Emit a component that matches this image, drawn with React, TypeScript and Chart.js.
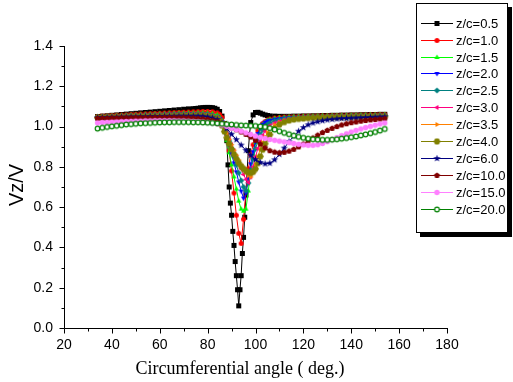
import React, { useEffect, useRef } from 'react';
import { Chart, registerables } from 'chart.js';

Chart.register(...registerables);

// ---------------- data ----------------
const SERIES_LABELS = ['z/c=0.5', 'z/c=1.0', 'z/c=1.5', 'z/c=2.0', 'z/c=2.5', 'z/c=3.0', 'z/c=3.5', 'z/c=4.0', 'z/c=6.0', 'z/c=10.0', 'z/c=15.0', 'z/c=20.0'];
const X_TITLE = 'Circumferential angle ( deg.)';
const Y_TITLE = 'Vz/V';

const ANGLES_BLACK = [34, 36, 38, 40, 42, 44, 46, 48, 50, 52, 54, 56, 58, 60, 62, 64, 66, 68, 70, 72, 74,
  75, 76, 77, 78, 79, 80, 81, 82, 83, 84, 85, 86, 87, 88,
  88.5, 89, 89.5, 90, 90.5, 91, 91.5, 92, 92.5, 93, 93.5, 94, 94.5, 95, 95.5, 96, 96.5, 97, 97.5,
  98, 99, 100, 101, 102, 103, 104, 105, 106,
  108, 110, 112, 114, 116, 118, 120, 122, 124, 126, 128, 130, 132, 134, 136, 138, 140, 142, 144, 146, 148, 150, 152, 154];

const ANGLES_FINE = [34, 36, 38, 40, 42, 44, 46, 48, 50, 52, 54, 56, 58, 60, 62, 64, 66, 68, 70, 72, 74, 76, 78, 80, 82,
  84, 85, 86, 87, 88, 89, 90, 91, 92, 93, 94, 95, 96, 97, 98, 99, 100, 101, 102, 103, 104, 105, 106,
  108, 110, 112, 114, 116, 118, 120, 122, 124, 126, 128, 130, 132, 134, 136, 138, 140, 142, 144, 146, 148, 150, 152, 154];

const ANGLES_COARSE = [34, 36, 38, 40, 42, 44, 46, 48, 50, 52, 54, 56, 58, 60, 62, 64, 66, 68, 70, 72, 74, 76, 78, 80, 82,
  84, 86, 88, 90, 92, 94, 96, 98, 100, 102, 104, 106,
  108, 110, 112, 114, 116, 118, 120, 122, 124, 126, 128, 130, 132, 134, 136, 138, 140, 142, 144, 146, 148, 150, 152, 154];

const VZ_05 = [1.050, 1.052, 1.054, 1.056, 1.058, 1.060, 1.062, 1.064, 1.066, 1.068, 1.070, 1.072, 1.074, 1.076, 1.078, 1.080, 1.082, 1.084, 1.086, 1.088, 1.089,
  1.090, 1.091, 1.093, 1.094, 1.095, 1.095, 1.095, 1.094, 1.091, 1.086, 1.075, 1.052, 1.015, 0.930,
  0.810, 0.700, 0.620, 0.560, 0.480, 0.410, 0.330, 0.260, 0.190, 0.110, 0.190, 0.260, 0.370, 0.450, 0.550, 0.660, 0.780, 0.880, 0.960,
  1.020, 1.058, 1.070, 1.071, 1.067, 1.062, 1.058, 1.055, 1.053,
  1.052, 1.051, 1.051, 1.051, 1.052, 1.052, 1.053, 1.053, 1.054, 1.054, 1.055, 1.055, 1.056, 1.056, 1.057, 1.057, 1.058, 1.058, 1.059, 1.059, 1.060, 1.060, 1.061, 1.061];

const VZ_10 = [1.050, 1.052, 1.053, 1.055, 1.056, 1.057, 1.058, 1.060, 1.061, 1.062, 1.063, 1.064, 1.065, 1.066, 1.067, 1.068, 1.069, 1.070, 1.071, 1.072, 1.073, 1.074, 1.075, 1.075, 1.073,
  1.068, 1.060, 1.045, 1.015, 0.960, 0.880, 0.780, 0.670, 0.560, 0.470, 0.420, 0.540, 0.680, 0.790, 0.860, 0.910, 0.950, 0.980, 1.000, 1.015, 1.025, 1.032, 1.037,
  1.042, 1.045, 1.047, 1.048, 1.049, 1.050, 1.051, 1.052, 1.052, 1.053, 1.054, 1.054, 1.055, 1.055, 1.056, 1.056, 1.057, 1.057, 1.058, 1.058, 1.059, 1.059, 1.060, 1.060];

const VZ_15 = [1.048, 1.050, 1.051, 1.052, 1.053, 1.054, 1.055, 1.056, 1.057, 1.058, 1.059, 1.060, 1.061, 1.062, 1.063, 1.064, 1.065, 1.066, 1.066, 1.067, 1.067, 1.068, 1.068, 1.067, 1.064,
  1.058, 1.048, 1.030, 0.990, 0.930, 0.870, 0.810, 0.750, 0.690, 0.630, 0.590, 0.580, 0.590, 0.680, 0.780, 0.860, 0.920, 0.960, 0.990, 1.010, 1.022, 1.030, 1.035,
  1.040, 1.043, 1.045, 1.047, 1.048, 1.049, 1.050, 1.051, 1.051, 1.052, 1.053, 1.053, 1.054, 1.054, 1.055, 1.055, 1.056, 1.056, 1.057, 1.057, 1.058, 1.058, 1.058, 1.059];

const VZ_20 = [1.047, 1.048, 1.049, 1.050, 1.051, 1.052, 1.053, 1.054, 1.055, 1.056, 1.057, 1.058, 1.059, 1.060, 1.061, 1.062, 1.062, 1.063, 1.063, 1.064, 1.064, 1.065, 1.064, 1.062, 1.058,
  1.050, 1.040, 1.025, 0.995, 0.955, 0.910, 0.865, 0.820, 0.775, 0.725, 0.680, 0.645, 0.670, 0.740, 0.815, 0.875, 0.925, 0.965, 0.995, 1.012, 1.022, 1.028, 1.032,
  1.037, 1.040, 1.042, 1.044, 1.045, 1.046, 1.047, 1.048, 1.049, 1.050, 1.050, 1.051, 1.051, 1.052, 1.052, 1.053, 1.053, 1.054, 1.054, 1.055, 1.055, 1.055, 1.056, 1.056];

const VZ_25 = [1.046, 1.047, 1.048, 1.049, 1.050, 1.051, 1.052, 1.053, 1.054, 1.055, 1.056, 1.056, 1.057, 1.058, 1.058, 1.059, 1.060, 1.060, 1.061, 1.061, 1.062, 1.062, 1.061, 1.059, 1.055,
  1.048, 1.038, 1.022, 0.998, 0.965, 0.928, 0.890, 0.850, 0.810, 0.770, 0.732, 0.700, 0.682, 0.720, 0.780, 0.840, 0.890, 0.930, 0.960, 0.982, 0.998, 1.010, 1.018,
  1.028, 1.034, 1.038, 1.041, 1.043, 1.044, 1.045, 1.046, 1.047, 1.048, 1.048, 1.049, 1.050, 1.050, 1.051, 1.051, 1.052, 1.052, 1.053, 1.053, 1.054, 1.054, 1.054, 1.055];

const VZ_30 = [1.045, 1.046, 1.047, 1.048, 1.049, 1.050, 1.051, 1.052, 1.053, 1.054, 1.054, 1.055, 1.056, 1.056, 1.057, 1.057, 1.058, 1.058, 1.059, 1.059, 1.060, 1.060, 1.059, 1.057, 1.053,
  1.046, 1.036, 1.020, 0.998, 0.970, 0.940, 0.910, 0.880, 0.850, 0.820, 0.790, 0.762, 0.738, 0.722, 0.750, 0.800, 0.850, 0.892, 0.928, 0.956, 0.978, 0.994, 1.005,
  1.018, 1.027, 1.033, 1.037, 1.040, 1.042, 1.043, 1.044, 1.045, 1.046, 1.046, 1.047, 1.047, 1.048, 1.048, 1.049, 1.049, 1.050, 1.050, 1.050, 1.051, 1.051, 1.051, 1.052];

const VZ_35 = [1.045, 1.046, 1.046, 1.047, 1.048, 1.049, 1.050, 1.050, 1.051, 1.052, 1.052, 1.053, 1.054, 1.054, 1.055, 1.055, 1.056, 1.056, 1.057, 1.057, 1.058, 1.058, 1.057, 1.055, 1.051,
  1.044, 1.032, 1.015, 0.992, 0.965, 0.937, 0.910, 0.883, 0.858, 0.834, 0.810, 0.790, 0.772, 0.758, 0.750, 0.770, 0.810, 0.850, 0.888, 0.920, 0.948, 0.970, 0.988,
  1.008, 1.020, 1.028, 1.033, 1.037, 1.040, 1.042, 1.043, 1.044, 1.045, 1.045, 1.046, 1.046, 1.047, 1.047, 1.048, 1.048, 1.049, 1.049, 1.049, 1.050, 1.050, 1.050, 1.051];

const VZ_40 = [1.044, 1.045, 1.045, 1.046, 1.047, 1.047, 1.048, 1.049, 1.049, 1.050, 1.050, 1.051, 1.052, 1.052, 1.053, 1.053, 1.054, 1.054, 1.055, 1.055, 1.055, 1.056, 1.055, 1.052, 1.048,
  1.040, 1.025, 1.005, 0.975, 0.945, 0.915, 0.888, 0.862, 0.840, 0.820, 0.803, 0.790, 0.780, 0.773, 0.770, 0.775, 0.790, 0.818, 0.852, 0.885, 0.915, 0.940, 0.960,
  0.990, 1.010, 1.022, 1.030, 1.035, 1.038, 1.040, 1.042, 1.043, 1.044, 1.044, 1.045, 1.045, 1.046, 1.046, 1.047, 1.047, 1.048, 1.048, 1.048, 1.049, 1.049, 1.049, 1.050];

const VZ_60 = [1.044, 1.045, 1.045, 1.046, 1.046, 1.047, 1.047, 1.048, 1.048, 1.049, 1.049, 1.050, 1.050, 1.050, 1.051, 1.051, 1.051, 1.052, 1.052, 1.052, 1.052, 1.052, 1.051, 1.048, 1.043,
  1.035, 1.015, 0.990, 0.962, 0.935, 0.908, 0.882, 0.857, 0.836, 0.822, 0.815, 0.818,
  0.835, 0.862, 0.893, 0.925, 0.953, 0.977, 0.995, 1.009, 1.018, 1.024, 1.029, 1.033, 1.036, 1.038, 1.040, 1.041, 1.042, 1.043, 1.044, 1.045, 1.046, 1.047, 1.048, 1.049];

const VZ_100 = [1.040, 1.041, 1.041, 1.042, 1.042, 1.043, 1.043, 1.043, 1.044, 1.044, 1.044, 1.044, 1.045, 1.045, 1.045, 1.045, 1.045, 1.044, 1.044, 1.043, 1.042, 1.040, 1.038, 1.035, 1.030,
  1.024, 1.014, 1.004, 0.994, 0.984, 0.973, 0.961, 0.948, 0.932, 0.913, 0.894, 0.880,
  0.873, 0.870, 0.872, 0.878, 0.887, 0.899, 0.913, 0.928, 0.943, 0.957, 0.970, 0.981, 0.991, 1.000, 1.008, 1.014, 1.019, 1.023, 1.027, 1.030, 1.033, 1.035, 1.037, 1.039];

const VZ_150 = [1.018, 1.020, 1.021, 1.022, 1.023, 1.024, 1.025, 1.026, 1.027, 1.027, 1.028, 1.028, 1.029, 1.029, 1.029, 1.029, 1.029, 1.028, 1.028, 1.027, 1.026, 1.025, 1.023, 1.021, 1.018,
  1.014, 1.008, 1.001, 0.993, 0.985, 0.977, 0.969, 0.961, 0.953, 0.947, 0.941, 0.936,
  0.932, 0.928, 0.924, 0.920, 0.916, 0.912, 0.909, 0.907, 0.907, 0.910, 0.916, 0.925, 0.935, 0.945, 0.955, 0.964, 0.973, 0.981, 0.988, 0.995, 1.001, 1.007, 1.013, 1.018];

const VZ_200 = [0.990, 0.994, 0.998, 1.001, 1.004, 1.007, 1.010, 1.012, 1.014, 1.016, 1.017, 1.018, 1.019, 1.020, 1.021, 1.021, 1.022, 1.022, 1.022, 1.022, 1.021, 1.021, 1.020, 1.019, 1.018,
  1.016, 1.014, 1.012, 1.010, 1.008, 1.006, 1.005, 1.004, 1.003, 1.001, 0.998, 0.992,
  0.985, 0.977, 0.969, 0.962, 0.955, 0.949, 0.944, 0.940, 0.937, 0.935, 0.934, 0.934, 0.935, 0.937, 0.940, 0.943, 0.947, 0.951, 0.956, 0.961, 0.967, 0.973, 0.980, 0.988];

const SERIES_X = [ANGLES_BLACK, ANGLES_FINE, ANGLES_FINE, ANGLES_FINE, ANGLES_FINE, ANGLES_FINE, ANGLES_FINE, ANGLES_FINE, ANGLES_COARSE, ANGLES_COARSE, ANGLES_COARSE, ANGLES_COARSE];
const SERIES_Y = [VZ_05, VZ_10, VZ_15, VZ_20, VZ_25, VZ_30, VZ_35, VZ_40, VZ_60, VZ_100, VZ_150, VZ_200];

// ---------------- styles ----------------
const COLORS = ['#000000', '#FF0000', '#00FF00', '#0000FF', '#008080', '#FF0080', '#FF8000', '#808000', '#000080', '#800000', '#FF80FF', '#008000'];
const SHAPES = ['square', 'circle', 'triUp', 'triDown', 'diamond', 'triLeft', 'triRight', 'hexagon', 'star', 'pentagon', 'circle', 'openCircle'];
const SIZES = [2.5, 2.5, 3.0, 3.0, 3.1, 3.0, 3.0, 3.5, 3.7, 3.1, 2.7, 2.3];

function polygon(ctx: CanvasRenderingContext2D, c: number, r: number, n: number, start: number) {
  ctx.beginPath();
  for (let i = 0; i < n; i++) {
    const a = start + (i * 2 * Math.PI) / n;
    const x = c + r * Math.cos(a);
    const y = c + r * Math.sin(a);
    if (i === 0) ctx.moveTo(x, y); else ctx.lineTo(x, y);
  }
  ctx.closePath();
}

function makeMarker(shape: string, color: string, r: number): HTMLCanvasElement {
  const S = 11;
  const cv = document.createElement('canvas');
  cv.width = S; cv.height = S;
  const ctx = cv.getContext('2d') as CanvasRenderingContext2D;
  const c = S / 2;
  ctx.fillStyle = color;
  ctx.strokeStyle = color;
  ctx.lineWidth = 1;
  switch (shape) {
    case 'square':
      ctx.fillRect(c - r, c - r, 2 * r, 2 * r);
      break;
    case 'circle':
      ctx.beginPath(); ctx.arc(c, c, r, 0, Math.PI * 2); ctx.fill();
      break;
    case 'openCircle':
      ctx.beginPath(); ctx.arc(c, c, r, 0, Math.PI * 2);
      ctx.fillStyle = '#ffffff'; ctx.fill(); ctx.lineWidth = 1.2; ctx.stroke();
      break;
    case 'triUp':
      polygon(ctx, c, r, 3, -Math.PI / 2); ctx.fill();
      break;
    case 'triDown':
      polygon(ctx, c, r, 3, Math.PI / 2); ctx.fill();
      break;
    case 'triLeft':
      polygon(ctx, c, r, 3, Math.PI); ctx.fill();
      break;
    case 'triRight':
      polygon(ctx, c, r, 3, 0); ctx.fill();
      break;
    case 'diamond':
      polygon(ctx, c, r, 4, -Math.PI / 2); ctx.fill();
      break;
    case 'hexagon':
      polygon(ctx, c, r, 6, 0); ctx.fill();
      break;
    case 'pentagon':
      polygon(ctx, c, r, 5, -Math.PI / 2); ctx.fill();
      break;
    case 'star': {
      ctx.beginPath();
      for (let i = 0; i < 10; i++) {
        const a = -Math.PI / 2 + (i * Math.PI) / 5;
        const rr = i % 2 === 0 ? r : r * 0.42;
        const x = c + rr * Math.cos(a);
        const y = c + rr * Math.sin(a);
        if (i === 0) ctx.moveTo(x, y); else ctx.lineTo(x, y);
      }
      ctx.closePath(); ctx.fill();
      break;
    }
  }
  return cv;
}

const originPlugin = {
  id: 'originDecor',
  afterDraw(chart: any) {
    const ctx: CanvasRenderingContext2D = chart.ctx;
    const xs = chart.scales.x;
    const ys = chart.scales.y;
    const { left, right, top, bottom } = chart.chartArea;
    ctx.save();
    // axes lines + ticks
    ctx.strokeStyle = '#000';
    ctx.lineWidth = 1;
    const ax = Math.round(left) + 0.5;
    const ay = Math.round(bottom) + 0.5;
    ctx.beginPath();
    ctx.moveTo(ax, Math.round(top)); ctx.lineTo(ax, ay);
    ctx.moveTo(ax, ay); ctx.lineTo(Math.round(right) + 1, ay);
    const yt = ys.ticks.map((t: any) => t.value);
    for (let i = 0; i < yt.length; i++) {
      const py = Math.round(ys.getPixelForValue(yt[i])) + 0.5;
      ctx.moveTo(ax - 5, py); ctx.lineTo(ax, py);
      if (i < yt.length - 1) {
        const pm = Math.round(ys.getPixelForValue((yt[i] + yt[i + 1]) / 2)) + 0.5;
        ctx.moveTo(ax - 3, pm); ctx.lineTo(ax, pm);
      }
    }
    const xt = xs.ticks.map((t: any) => t.value);
    for (let i = 0; i < xt.length; i++) {
      const px = Math.round(xs.getPixelForValue(xt[i])) + 0.5;
      ctx.moveTo(px, ay); ctx.lineTo(px, ay + 5);
      if (i < xt.length - 1) {
        const pm = Math.round(xs.getPixelForValue((xt[i] + xt[i + 1]) / 2)) + 0.5;
        ctx.moveTo(pm, ay); ctx.lineTo(pm, ay + 3);
      }
    }
    ctx.stroke();

    // axis titles
    ctx.fillStyle = '#000';
    ctx.textAlign = 'center';
    ctx.textBaseline = 'middle';
    ctx.font = '18px "Liberation Serif", "Times New Roman", serif';
    ctx.fillText(X_TITLE, 240, 369);
    ctx.save();
    ctx.translate(17, 185);
    ctx.rotate(-Math.PI / 2);
    ctx.font = '20px "Liberation Sans", Arial, sans-serif';
    ctx.fillText(Y_TITLE, 0, 0);
    ctx.restore();

    // legend box with shadow
    const lx = 416, ly = 3, lw = 92, lh = 230;
    ctx.fillStyle = '#000';
    ctx.fillRect(lx + 4, ly + 4, lw, lh);
    ctx.fillStyle = '#fff';
    ctx.fillRect(lx, ly, lw, lh);
    ctx.strokeStyle = '#000';
    ctx.strokeRect(lx + 0.5, ly + 0.5, lw - 1, lh - 1);
    ctx.font = '13px "Liberation Sans", Arial, sans-serif';
    ctx.textAlign = 'left';
    const ds = chart.data.datasets;
    for (let i = 0; i < ds.length; i++) {
      const y = Math.round(22.7 + i * 16.9) + 0.5;
      ctx.strokeStyle = ds[i].borderColor;
      ctx.beginPath(); ctx.moveTo(421, y); ctx.lineTo(453, y); ctx.stroke();
      const m = ds[i].pointStyle as HTMLCanvasElement;
      ctx.drawImage(m, 437 - m.width / 2, y - m.height / 2);
      ctx.fillStyle = '#000';
      ctx.fillText(ds[i].label, 456, y + 0.5);
    }
    ctx.restore();
  },
};

export default function App() {
  const ref = useRef<HTMLCanvasElement | null>(null);
  useEffect(() => {
    document.body.style.margin = '0';
    const canvas = ref.current;
    if (!canvas) return;
    const datasets = SERIES_LABELS.map((label, i) => ({
      label,
      data: SERIES_X[i].map((x, k) => ({ x, y: SERIES_Y[i][k] })),
      borderColor: COLORS[i],
      backgroundColor: COLORS[i],
      borderWidth: 1,
      pointStyle: makeMarker(SHAPES[i], COLORS[i], SIZES[i]) as any,
      pointRadius: 3,
      tension: 0,
      order: SERIES_LABELS.length - i,
    }));
    const chart = new Chart(canvas, {
      type: 'line',
      data: { datasets },
      options: {
        responsive: false,
        animation: false,
        devicePixelRatio: 1,
        layout: { padding: { top: 46, right: 66, left: 0, bottom: 0 } },
        plugins: { legend: { display: false }, tooltip: { enabled: false } },
        scales: {
          x: {
            type: 'linear',
            min: 20,
            max: 180,
            grid: { display: false, drawTicks: false },
            border: { display: false },
            ticks: {
              stepSize: 20,
              padding: 9,
              color: '#000',
              font: { family: '"Liberation Sans", Arial, sans-serif', size: 14 },
            },
            afterFit: (s: any) => { s.height = 54; },
          },
          y: {
            type: 'linear',
            min: 0,
            max: 1.4,
            grid: { display: false, drawTicks: false },
            border: { display: false },
            ticks: {
              stepSize: 0.2,
              padding: 11,
              color: '#000',
              font: { family: '"Liberation Sans", Arial, sans-serif', size: 14 },
              callback: (v: any) => Number(v).toFixed(1),
            },
            afterFit: (s: any) => { s.width = 64; },
          },
        },
      },
      plugins: [originPlugin],
    });
    return () => chart.destroy();
  }, []);
  return (
    <div style={{ width: 513, height: 382, background: '#fff' }}>
      <canvas ref={ref} width={513} height={382} style={{ display: 'block' }} />
    </div>
  );
}
